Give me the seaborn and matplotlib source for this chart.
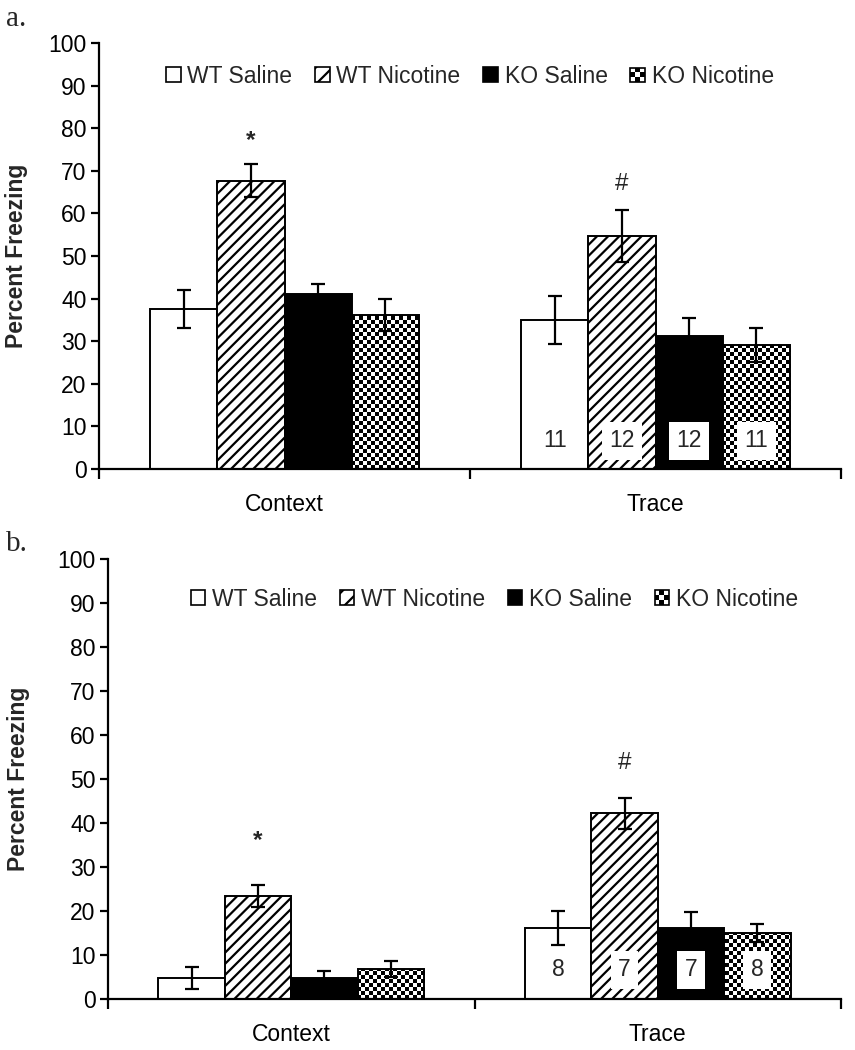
import numpy as np
import pandas as pd
import matplotlib
matplotlib.use("Agg")
import matplotlib.pyplot as plt
import seaborn as sns
from matplotlib.patches import Patch, Rectangle
from matplotlib.legend_handler import HandlerBase

# ---------------- data ----------------
phases = ["Context", "Trace"]
groups = ["WT Saline", "WT Nicotine", "KO Saline", "KO Nicotine"]

a_wt_saline = [37.6, 35.0]
a_wt_nicotine = [67.7, 54.7]
a_ko_saline = [41.1, 31.2]
a_ko_nicotine = [36.2, 29.1]
a_err_wt_saline = [4.5, 5.6]
a_err_wt_nicotine = [3.9, 6.2]
a_err_ko_saline = [2.4, 4.2]
a_err_ko_nicotine = [3.8, 3.9]
a_n = [11, 12, 12, 11]

b_wt_saline = [4.8, 16.1]
b_wt_nicotine = [23.4, 42.2]
b_ko_saline = [4.8, 16.1]
b_ko_nicotine = [6.8, 15.0]
b_err_wt_saline = [2.5, 3.8]
b_err_wt_nicotine = [2.5, 3.5]
b_err_ko_saline = [1.6, 3.7]
b_err_ko_nicotine = [1.9, 2.1]
b_n = [8, 7, 7, 8]

yticks = [0, 10, 20, 30, 40, 50, 60, 70, 80, 90, 100]
ylabel = "Percent Freezing"

# ---------------- style ----------------
sns.set_style("white")
plt.rcParams["font.family"] = ["Liberation Sans", "DejaVu Sans"]
plt.rcParams["hatch.linewidth"] = 1.6
FS = 16.5

fig = plt.figure(figsize=(8.55, 10.5), dpi=100)
W, H = 855, 1050
ax_a = fig.add_axes([99 / W, 1 - 469 / H, 742 / W, 426 / H])
ax_b = fig.add_axes([108 / W, 1 - 999 / H, 733 / W, 440 / H])


class CheckerHandler(HandlerBase):
    def create_artists(self, legend, orig_handle, xdescent, ydescent,
                       width, height, fontsize, trans):
        s = min(width, height)
        x0, y0 = -xdescent + (width - s) / 2, -ydescent + (height - s) / 2
        n = 3
        c = s / n
        arts = []
        for i in range(n):
            for j in range(n):
                if (i + j) % 2 == 1:
                    arts.append(Rectangle((x0 + i * c, y0 + j * c), c, c,
                                          facecolor="black", edgecolor="none",
                                          transform=trans))
        arts.append(Rectangle((x0, y0), s, s, facecolor="none",
                              edgecolor="black", lw=1.2, transform=trans))
        return arts


def panel(ax, means, errs, ns, marks, leg_anchor):
    df = pd.DataFrame({
        "phase": np.tile(phases, len(groups)),
        "group": np.repeat(groups, len(phases)),
        "pct": np.concatenate(means),
    })
    sns.barplot(data=df, x="phase", y="pct", hue="group", order=phases,
                hue_order=groups, palette=["white", "white", "black", "white"],
                saturation=1, edgecolor="black", linewidth=1.4, width=0.725,
                errorbar=None, legend=False, ax=ax)
    ax.set_xlim(-0.5, 1.5)
    ax.set_ylim(0, 100)
    fig.canvas.draw()
    bb = ax.get_window_extent()
    nx = int(round(bb.width / 4.0))
    ny = int(round(bb.height / 4.0))
    checker = (np.add.outer(np.arange(ny), np.arange(nx)) % 2).astype(float)

    bar_conts = list(ax.containers)
    for gi, cont in enumerate(bar_conts):
        for pi, bar in enumerate(cont.patches):
            bar.set_zorder(2)
            if groups[gi] == "WT Nicotine":
                bar.set_hatch("///")
            if groups[gi] == "KO Nicotine":
                bar.set_facecolor("none")
                im = ax.imshow(checker, extent=(0, 1, 0, 1), transform=ax.transAxes,
                               cmap="gray_r", vmin=0, vmax=1, interpolation="nearest",
                               aspect="auto", zorder=1.5)
                im.set_clip_path(bar)
            cx = bar.get_x() + bar.get_width() / 2
            ax.errorbar(cx, bar.get_height(), yerr=errs[gi][pi], fmt="none",
                        ecolor="black", elinewidth=1.6, capsize=5, capthick=1.6,
                        zorder=3)
            if pi == 1:
                ax.text(cx, 6.6, str(ns[gi]), ha="center", va="center",
                        fontsize=FS, zorder=4,
                        bbox=dict(boxstyle="square,pad=0.33", facecolor="white",
                                  edgecolor="none"))
    ax.set_xlim(-0.5, 1.5)
    ax.set_ylim(0, 100)

    # significance markers above WT Nicotine bars
    nic = bar_conts[1].patches
    for pi, (sym, yv, fw) in enumerate(marks):
        b = nic[pi]
        ax.text(b.get_x() + b.get_width() / 2, yv, sym, ha="center",
                va="center", fontsize=FS + 1, fontweight=fw)

    # axes styling
    sns.despine(ax=ax)
    for sp in ["left", "bottom"]:
        ax.spines[sp].set_linewidth(1.6)
        ax.spines[sp].set_color("black")
    ax.set_yticks(yticks)
    ax.set_yticklabels([str(t) for t in yticks], fontsize=FS)
    ax.tick_params(axis="y", direction="out", length=6, width=1.6, pad=3,
                   left=True, colors="black")
    ax.set_xticks([0, 1])
    ax.set_xticklabels(phases, fontsize=FS)
    ax.set_xticks([-0.5, 0.5, 1.5], minor=True)
    ax.tick_params(axis="x", which="major", length=0, pad=17, colors="black")
    ax.tick_params(axis="x", which="minor", direction="out", length=7,
                   width=1.6, bottom=True, colors="black")
    ax.set_xlabel("")
    ax.set_ylabel(ylabel, fontsize=FS, fontweight="bold")

    handles = [Patch(facecolor="white", edgecolor="black", lw=1.2),
               Patch(facecolor="white", edgecolor="black", lw=1.2, hatch="//"),
               Patch(facecolor="black", edgecolor="black", lw=1.2),
               Patch(facecolor="white", edgecolor="black")]
    ax.legend(handles, groups, ncol=4, loc="center", bbox_to_anchor=leg_anchor,
              frameon=False, fontsize=FS, handlelength=0.62, handleheight=0.62,
              handletextpad=0.3, columnspacing=1.0,
              handler_map={handles[3]: CheckerHandler()})


panel(ax_a,
      [a_wt_saline, a_wt_nicotine, a_ko_saline, a_ko_nicotine],
      [a_err_wt_saline, a_err_wt_nicotine, a_err_ko_saline, a_err_ko_nicotine],
      a_n, [("*", 77.0, "bold"), ("#", 67.0, "normal")], (0.5, 0.922))
panel(ax_b,
      [b_wt_saline, b_wt_nicotine, b_ko_saline, b_ko_nicotine],
      [b_err_wt_saline, b_err_wt_nicotine, b_err_ko_saline, b_err_ko_nicotine],
      b_n, [("*", 36.0, "bold"), ("#", 53.6, "normal")], (0.527, 0.909))

ax_a.yaxis.set_label_coords((28 - 99) / 742, 0.5)
ax_b.yaxis.set_label_coords((30 - 108) / 733, 0.5)

fig.text(6 / W, 1 - 6 / H, "a.", family=["Liberation Serif"], fontsize=21,
         ha="left", va="top")
fig.text(6 / W, 1 - 531 / H, "b.", family=["Liberation Serif"], fontsize=21,
         ha="left", va="top")

fig.savefig("out.png", dpi=100)
